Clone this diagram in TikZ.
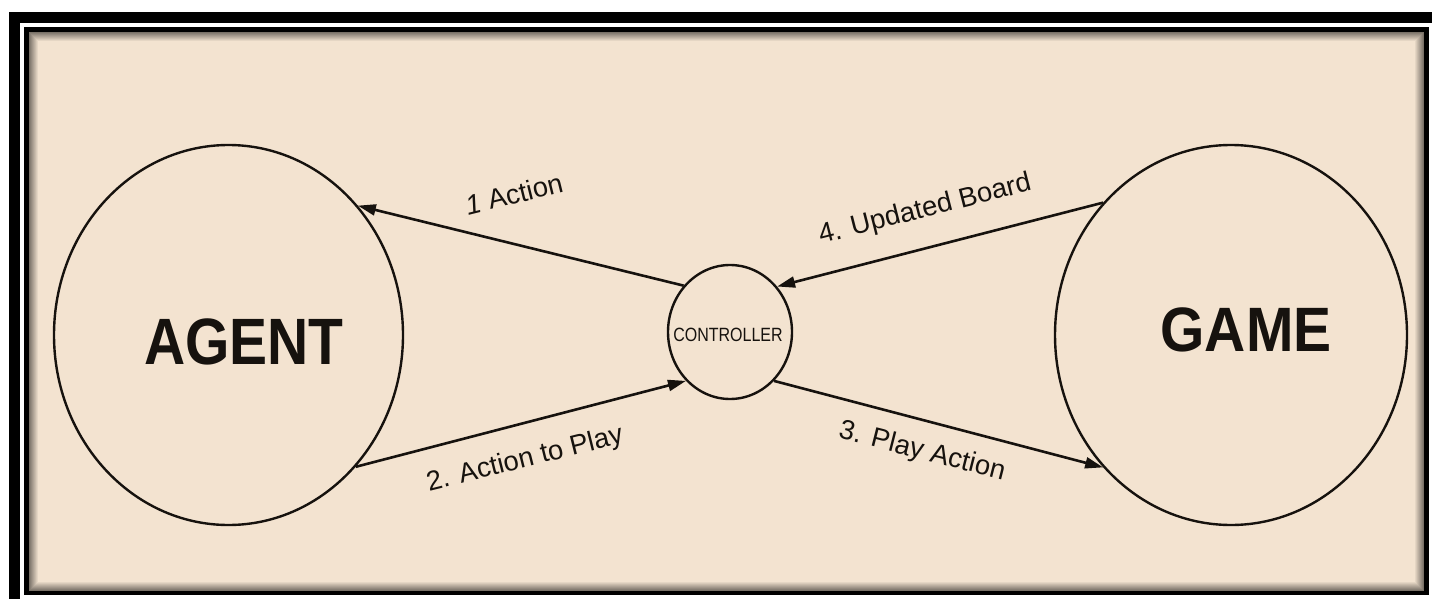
\documentclass[tikz,border=0pt]{standalone}
\usepackage{fontspec}
\setmainfont{Liberation Sans}
\usetikzlibrary{arrows.meta,shapes.geometric}
\definecolor{bg}{RGB}{243,227,208}
\definecolor{ink}{RGB}{22,18,14}
\begin{document}
\begin{tikzpicture}[x=1pt,y=-1pt,
  bubble/.style={draw=ink,line width=2.4pt,ellipse,inner sep=0pt},
  flow/.style={draw=ink,line width=2.6pt,-{Triangle[length=18pt,width=11pt]}},
  lbl/.style={font=\fontsize{27.5}{28}\selectfont,text=ink,inner sep=0pt},
  big/.style={font=\fontsize{57}{57}\selectfont\bfseries,text=ink,inner sep=0pt}]
\useasboundingbox (0,0) rectangle (1432,599);
\fill[white] (0,0) rectangle (1432,599);
% frame
\fill[black] (9,12) rectangle (1432,599);
\fill[white] (20,23) rectangle (1432,599);
\fill[black] (24,27) rectangle (1429,595);
\fill[bg] (29,32) rectangle (1424,591);
\foreach \i in {0,...,8}
  \draw[black,opacity={0.5*(1-\i/9)},line width=1pt] ({29.5+\i},{32.5+\i}) rectangle ({1423.5-\i},{590.5-\i});
% nodes
\node[bubble,minimum width=349pt,minimum height=380pt] (agent) at (228.5,335) {};
\node[bubble,minimum width=352pt,minimum height=380pt] (game) at (1231,335) {};
\node[bubble,minimum width=124pt,minimum height=134pt] (ctrl) at (730,332) {};
\node[big] (agenttxt) at (244,342) {\scalebox{1}[1.15]{AGENT}};
\node[big] (gametxt) at (1246,330) {\scalebox{1}[1.1]{GAME}};
\node[font=\fontsize{16}{16}\selectfont,text=ink,inner sep=0pt] (ctrltxt) at (728,335) {\scalebox{1}[1.2]{CONTROLLER}};
% connectors
\draw[flow] (ctrl.135) -- (agent.45);
\draw[flow] (agent.-46) -- (ctrl.-132);
\draw[flow] (ctrl.-48) -- (game.-134);
\draw[flow] (game.134) -- (ctrl.44);
% labels
\node[lbl,rotate=13.8] (l1) at (514,194) {\textit{1} Action};
\node[lbl,rotate=14] (l2) at (525,460) {2. Action to Play};
\node[lbl,rotate=-14.3] (l3) at (922,452) {3. Play Action};
\node[lbl,rotate=14.3] (l4) at (925,210) {4. Updated Board};
\end{tikzpicture}
\end{document}
